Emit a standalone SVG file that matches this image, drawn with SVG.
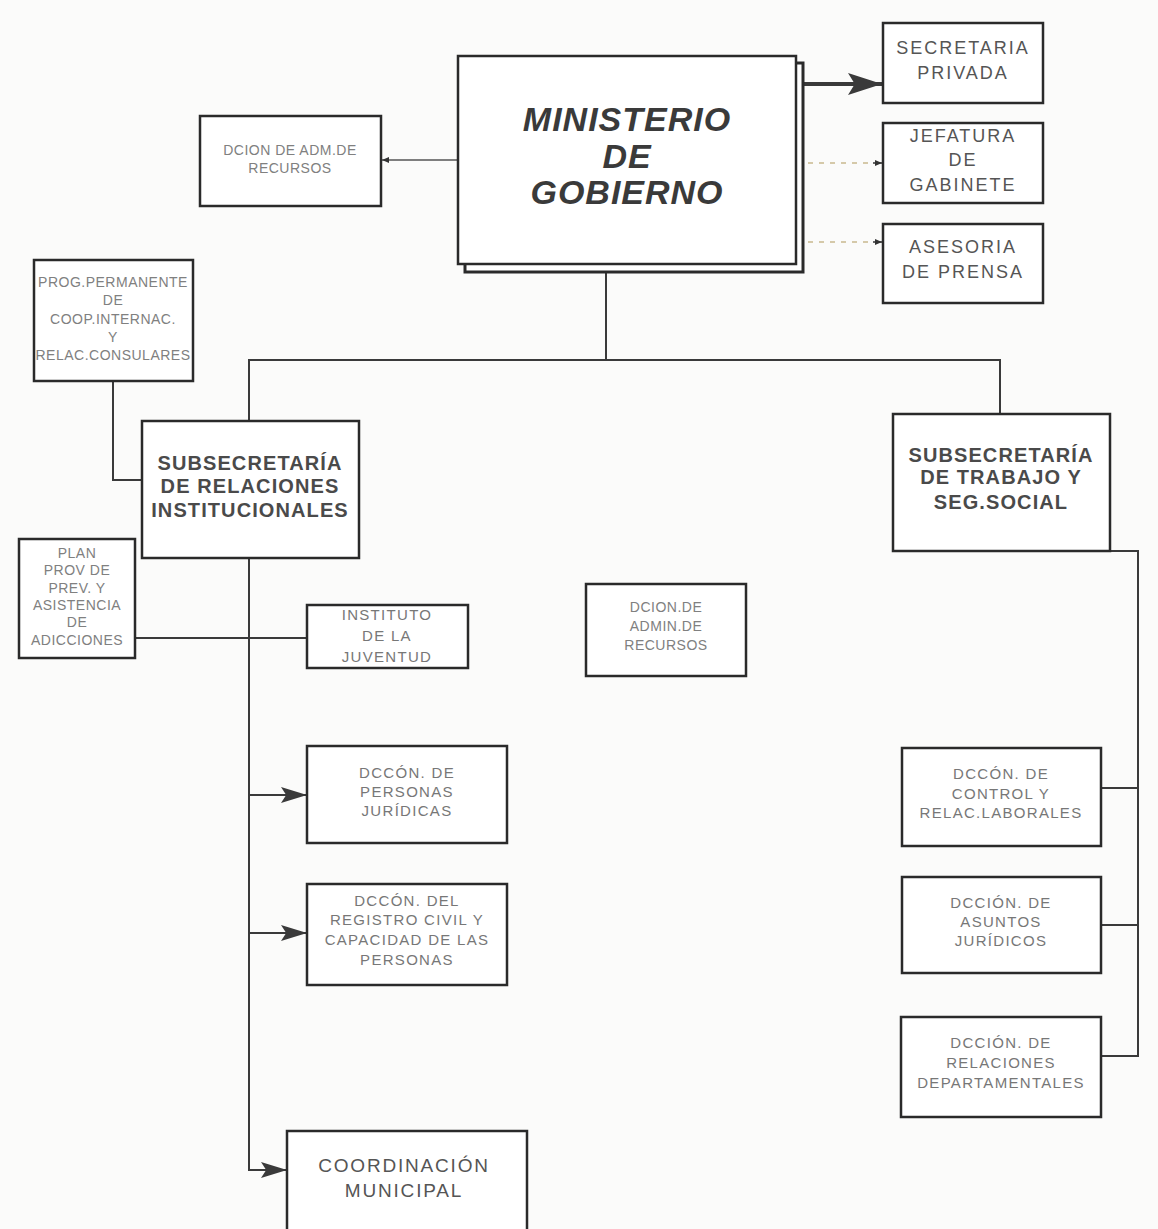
<svg xmlns="http://www.w3.org/2000/svg" width="1158" height="1229" viewBox="0 0 1158 1229">
<defs>
<style>
.box{fill:#ffffff;stroke:#2a2a2a;stroke-width:2.5}
.ln{fill:none;stroke:#3a3a3a;stroke-width:2}
.dash{fill:none;stroke:#c9b98f;stroke-width:1.5;stroke-dasharray:5 6}
text{font-family:"Liberation Sans",Arial,sans-serif;text-anchor:middle}
.big{font-size:34px;font-weight:bold;font-style:italic;fill:#3a3a3a;letter-spacing:1px}
.sub{font-size:20px;font-weight:bold;fill:#4a4a4a;letter-spacing:1.1px}
.med{font-size:18px;fill:#555;letter-spacing:2px}
.coord{font-size:19px;fill:#555;letter-spacing:1.8px}
.sm{font-size:15px;fill:#777;letter-spacing:1.3px}
.xs{font-size:14px;fill:#808080;letter-spacing:0.5px}
</style>
<marker id="ah" viewBox="0 0 10 10" refX="10" refY="5" markerWidth="10" markerHeight="10" markerUnits="userSpaceOnUse" orient="auto">
<path d="M0,0 L10,5 L0,10 z" fill="#333"/>
</marker>
<marker id="ahBig" viewBox="0 0 10 10" refX="10" refY="5" markerWidth="34" markerHeight="22" markerUnits="userSpaceOnUse" orient="auto" preserveAspectRatio="none">
<path d="M0,0 L10,5 L0,10 L2,5 z" fill="#3a3a3a"/>
</marker>
<marker id="ahMed" viewBox="0 0 10 10" refX="10" refY="5" markerWidth="26" markerHeight="16" markerUnits="userSpaceOnUse" orient="auto" preserveAspectRatio="none">
<path d="M0,0 L10,5 L0,10 L2,5 z" fill="#3a3a3a"/>
</marker>
<marker id="ahSm" viewBox="0 0 10 10" refX="10" refY="5" markerWidth="7" markerHeight="6" markerUnits="userSpaceOnUse" orient="auto" preserveAspectRatio="none">
<path d="M0,0 L10,5 L0,10 z" fill="#333"/>
</marker>
</defs>
<rect width="1158" height="1229" fill="#fbfbfa"/>

<g id="connectors">
<line x1="803" y1="84" x2="882" y2="84" stroke="#3a3a3a" stroke-width="4" marker-end="url(#ahBig)"/>
<line class="dash" x1="808" y1="163" x2="872" y2="163"/>
<line x1="873" y1="163" x2="882" y2="163" stroke="#333" stroke-width="1.5" marker-end="url(#ahSm)"/>
<line class="dash" x1="808" y1="242" x2="872" y2="242"/>
<line x1="873" y1="242" x2="882" y2="242" stroke="#333" stroke-width="1.5" marker-end="url(#ahSm)"/>
<line x1="458" y1="160" x2="382" y2="160" stroke="#555" stroke-width="1.5" marker-end="url(#ahSm)"/>
<polyline class="ln" points="606,272 606,360"/>
<polyline class="ln" points="249,421 249,360 1000,360 1000,414"/>
<polyline class="ln" points="113,381 113,480 142,480"/>
<line class="ln" x1="135" y1="638" x2="307" y2="638"/>
<polyline class="ln" points="249,558 249,1170 287,1170" marker-end="url(#ahMed)"/>
<line class="ln" x1="249" y1="795" x2="307" y2="795" marker-end="url(#ahMed)"/>
<line class="ln" x1="249" y1="933" x2="307" y2="933" marker-end="url(#ahMed)"/>
<polyline class="ln" points="1110,551 1138,551 1138,1056 1101,1056"/>
<line class="ln" x1="1101" y1="788" x2="1138" y2="788"/>
<line class="ln" x1="1101" y1="925" x2="1138" y2="925"/>
</g>

<g id="ministerio">
<rect x="465" y="63" width="338" height="209" fill="#fff" stroke="#2a2a2a" stroke-width="3"/>
<rect class="box" x="458" y="56" width="338" height="208" stroke-width="3"/>
<text class="big" x="627" y="131">MINISTERIO</text>
<text class="big" x="627" y="168">DE</text>
<text class="big" x="627" y="204">GOBIERNO</text>
</g>

<g id="secretaria-privada">
<rect class="box" x="883" y="23" width="160" height="80"/>
<text class="med" x="963" y="54">SECRETARIA</text>
<text class="med" x="963" y="79">PRIVADA</text>
</g>

<g id="jefatura-gabinete">
<rect class="box" x="883" y="123" width="160" height="80"/>
<text class="med" x="963" y="142">JEFATURA</text>
<text class="med" x="963" y="166">DE</text>
<text class="med" x="963" y="191">GABINETE</text>
</g>

<g id="asesoria-prensa">
<rect class="box" x="883" y="224" width="160" height="79"/>
<text class="med" x="963" y="253">ASESORIA</text>
<text class="med" x="963" y="278">DE PRENSA</text>
</g>

<g id="dcion-adm-recursos">
<rect class="box" x="200" y="116" width="181" height="90"/>
<text class="xs" x="290" y="155">DCION DE ADM.DE</text>
<text class="xs" x="290" y="173">RECURSOS</text>
</g>

<g id="prog-permanente">
<rect class="box" x="34" y="260" width="159" height="121"/>
<text class="xs" x="113" y="287">PROG.PERMANENTE</text>
<text class="xs" x="113" y="305">DE</text>
<text class="xs" x="113" y="324">COOP.INTERNAC.</text>
<text class="xs" x="113" y="342">Y</text>
<text class="xs" x="113" y="360">RELAC.CONSULARES</text>
</g>

<g id="subsec-relaciones">
<rect class="box" x="142" y="421" width="217" height="137"/>
<text class="sub" x="250" y="470">SUBSECRETARÍA</text>
<text class="sub" x="250" y="493">DE RELACIONES</text>
<text class="sub" x="250" y="517">INSTITUCIONALES</text>
</g>

<g id="subsec-trabajo">
<rect class="box" x="893" y="414" width="217" height="137"/>
<text class="sub" x="1001" y="462">SUBSECRETARÍA</text>
<text class="sub" x="1001" y="484">DE TRABAJO Y</text>
<text class="sub" x="1001" y="509">SEG.SOCIAL</text>
</g>

<g id="plan-prov">
<rect class="box" x="19" y="539" width="116" height="119"/>
<text class="xs" x="77" y="558">PLAN</text>
<text class="xs" x="77" y="575">PROV DE</text>
<text class="xs" x="77" y="593">PREV. Y</text>
<text class="xs" x="77" y="610">ASISTENCIA</text>
<text class="xs" x="77" y="627">DE</text>
<text class="xs" x="77" y="645">ADICCIONES</text>
</g>

<g id="instituto-juventud">
<rect class="box" x="307" y="605" width="161" height="63"/>
<text class="sm" x="387" y="620">INSTITUTO</text>
<text class="sm" x="387" y="641">DE LA</text>
<text class="sm" x="387" y="662">JUVENTUD</text>
</g>

<g id="dcion-admin-recursos">
<rect class="box" x="586" y="584" width="160" height="92"/>
<text class="xs" x="666" y="612">DCION.DE</text>
<text class="xs" x="666" y="631">ADMIN.DE</text>
<text class="xs" x="666" y="650">RECURSOS</text>
</g>

<g id="personas-juridicas">
<rect class="box" x="307" y="746" width="200" height="97"/>
<text class="sm" x="407" y="778">DCCÓN. DE</text>
<text class="sm" x="407" y="797">PERSONAS</text>
<text class="sm" x="407" y="816">JURÍDICAS</text>
</g>

<g id="registro-civil">
<rect class="box" x="307" y="884" width="200" height="101"/>
<text class="sm" x="407" y="906">DCCÓN. DEL</text>
<text class="sm" x="407" y="925">REGISTRO CIVIL Y</text>
<text class="sm" x="407" y="945">CAPACIDAD DE LAS</text>
<text class="sm" x="407" y="965">PERSONAS</text>
</g>

<g id="coordinacion-municipal">
<rect class="box" x="287" y="1131" width="240" height="110"/>
<text class="coord" x="404" y="1172">COORDINACIÓN</text>
<text class="coord" x="404" y="1197">MUNICIPAL</text>
</g>

<g id="control-laborales">
<rect class="box" x="902" y="748" width="199" height="98"/>
<text class="sm" x="1001" y="779">DCCÓN. DE</text>
<text class="sm" x="1001" y="799">CONTROL Y</text>
<text class="sm" x="1001" y="818">RELAC.LABORALES</text>
</g>

<g id="asuntos-juridicos">
<rect class="box" x="902" y="877" width="199" height="96"/>
<text class="sm" x="1001" y="908">DCCIÓN.  DE</text>
<text class="sm" x="1001" y="927">ASUNTOS</text>
<text class="sm" x="1001" y="946">JURÍDICOS</text>
</g>

<g id="relaciones-departamentales">
<rect class="box" x="901" y="1017" width="200" height="100"/>
<text class="sm" x="1001" y="1048">DCCIÓN.  DE</text>
<text class="sm" x="1001" y="1068">RELACIONES</text>
<text class="sm" x="1001" y="1088">DEPARTAMENTALES</text>
</g>
</svg>
